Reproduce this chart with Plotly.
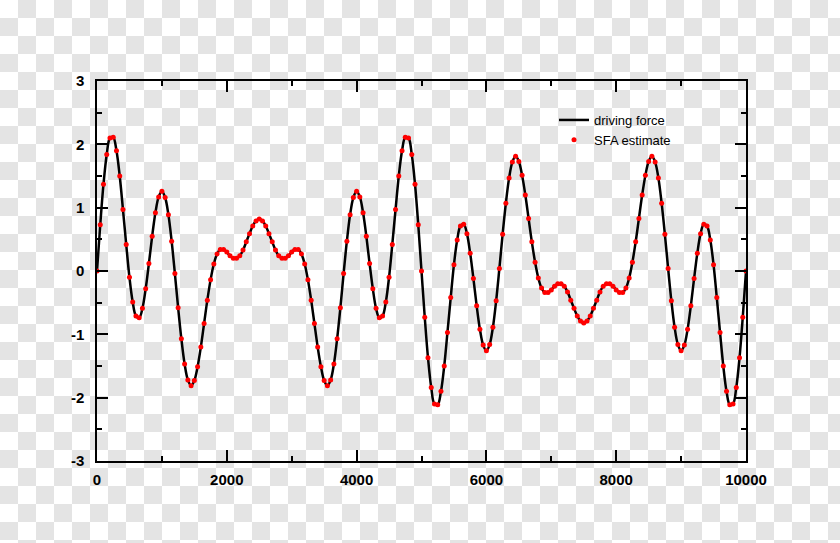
import plotly.graph_objects as go

# ---- data ----
x_samples = list(range(0, 10001, 50))

driving_force = [
    0.00, 0.73, 1.37, 1.84, 2.10, 2.11, 1.90, 1.50, 0.97, 0.42,
    -0.10, -0.49, -0.71, -0.74, -0.59, -0.28, 0.12, 0.55, 0.92, 1.17,
    1.26, 1.16, 0.89, 0.47, -0.04, -0.58, -1.07, -1.47, -1.72, -1.81,
    -1.73, -1.51, -1.20, -0.83, -0.46, -0.14, 0.11, 0.27, 0.34, 0.34,
    0.30, 0.24, 0.20, 0.20, 0.24, 0.33, 0.46, 0.59, 0.71, 0.79,
    0.82, 0.79, 0.71, 0.59, 0.46, 0.33, 0.24, 0.20, 0.20, 0.24,
    0.30, 0.34, 0.34, 0.27, 0.11, -0.14, -0.46, -0.83, -1.20, -1.51,
    -1.73, -1.81, -1.72, -1.47, -1.07, -0.58, -0.04, 0.47, 0.89, 1.16,
    1.26, 1.17, 0.92, 0.55, 0.12, -0.28, -0.59, -0.74, -0.71, -0.49,
    -0.10, 0.42, 0.97, 1.50, 1.90, 2.11, 2.10, 1.84, 1.37, 0.73,
    0.00, -0.73, -1.37, -1.84, -2.10, -2.11, -1.90, -1.50, -0.97, -0.42,
    0.10, 0.49, 0.71, 0.74, 0.59, 0.28, -0.12, -0.55, -0.92, -1.17,
    -1.26, -1.16, -0.89, -0.47, 0.04, 0.58, 1.07, 1.47, 1.72, 1.81,
    1.73, 1.51, 1.20, 0.83, 0.46, 0.14, -0.11, -0.27, -0.34, -0.34,
    -0.30, -0.24, -0.20, -0.20, -0.24, -0.33, -0.46, -0.59, -0.71, -0.79,
    -0.82, -0.79, -0.71, -0.59, -0.46, -0.33, -0.24, -0.20, -0.20, -0.24,
    -0.30, -0.34, -0.34, -0.27, -0.11, 0.14, 0.46, 0.83, 1.20, 1.51,
    1.73, 1.81, 1.72, 1.47, 1.07, 0.58, 0.04, -0.47, -0.89, -1.16,
    -1.26, -1.17, -0.92, -0.55, -0.12, 0.28, 0.59, 0.74, 0.71, 0.49,
    0.10, -0.42, -0.97, -1.50, -1.90, -2.11, -2.10, -1.84, -1.37, -0.73,
    0.00,
]

sfa_estimate = list(driving_force)

x_tick_vals = [0, 2000, 4000, 6000, 8000, 10000]
x_tick_text = ["0", "2000", "4000", "6000", "8000", "10000"]
x_minor_vals = [1000, 3000, 5000, 7000, 9000]
y_tick_vals = [-3, -2, -1, 0, 1, 2, 3]
y_tick_text = ["-3", "-2", "-1", "0", "1", "2", "3"]
y_minor_vals = [-2.5, -1.5, -0.5, 0.5, 1.5, 2.5]

# ---- figure ----
W, H = 840, 543
L, R, T, B = 97, 94, 81, 82
pw, ph = W - L - R, H - T - B

# checkered page background (decoration), one rect shape per grey cell
CELL = 18
checker_shapes = []
for j in range((H + CELL - 1) // CELL):
    for i in range((W + CELL - 1) // CELL):
        if (i + j) % 2 == 1:
            checker_shapes.append(dict(
                type="rect", xref="paper", yref="paper", layer="below",
                x0=(i * CELL - L) / pw, x1=((i + 1) * CELL - L) / pw,
                y0=1 - (j * CELL - T) / ph, y1=1 - ((j + 1) * CELL - T) / ph,
                fillcolor="#e4e4e4", line=dict(width=0),
            ))

font_fam = "Liberation Sans, Arial, Helvetica, sans-serif"

fig = go.Figure()
fig.add_trace(go.Scatter(
    x=x_samples, y=driving_force, mode="lines", name="driving force",
    line=dict(color="black", width=2.5, shape="spline"),
))
fig.add_trace(go.Scatter(
    x=x_samples, y=sfa_estimate, mode="markers", name="SFA estimate",
    marker=dict(color="#ff0000", size=5),
))

axis_common = dict(
    showline=True, linecolor="black", linewidth=1.5, mirror="allticks",
    ticks="inside", ticklen=11, tickwidth=1.5, tickcolor="black",
    showgrid=False, zeroline=False,
    tickfont=dict(family=font_fam, size=15, color="black", weight="bold"),
)

fig.update_xaxes(
    range=[0, 10000], tickvals=x_tick_vals, ticktext=x_tick_text,
    minor=dict(tickvals=x_minor_vals, ticks="inside", ticklen=5, tickwidth=1.5,
               tickcolor="black", showgrid=False),
    ticklabelstandoff=4,
    **axis_common,
)
fig.update_yaxes(
    range=[-3, 3], tickvals=y_tick_vals, ticktext=y_tick_text,
    minor=dict(tickvals=y_minor_vals, ticks="inside", ticklen=5, tickwidth=1.5,
               tickcolor="black", showgrid=False),
    ticklabelstandoff=8,
    **axis_common,
)

fig.update_layout(
    width=W, height=H, autosize=False,
    margin=dict(l=L, r=R, t=T, b=B, pad=0),
    paper_bgcolor="white", plot_bgcolor="rgba(0,0,0,0)",
    showlegend=True,
    legend=dict(
        x=(554 - L) / pw, y=1 - (105 - T) / ph, xanchor="left", yanchor="top",
        bgcolor="rgba(0,0,0,0)", borderwidth=0,
        font=dict(family=font_fam, size=13, color="black"),
        itemwidth=30, tracegroupgap=0,
    ),
    shapes=checker_shapes,
)

fig.write_html("out.html")
